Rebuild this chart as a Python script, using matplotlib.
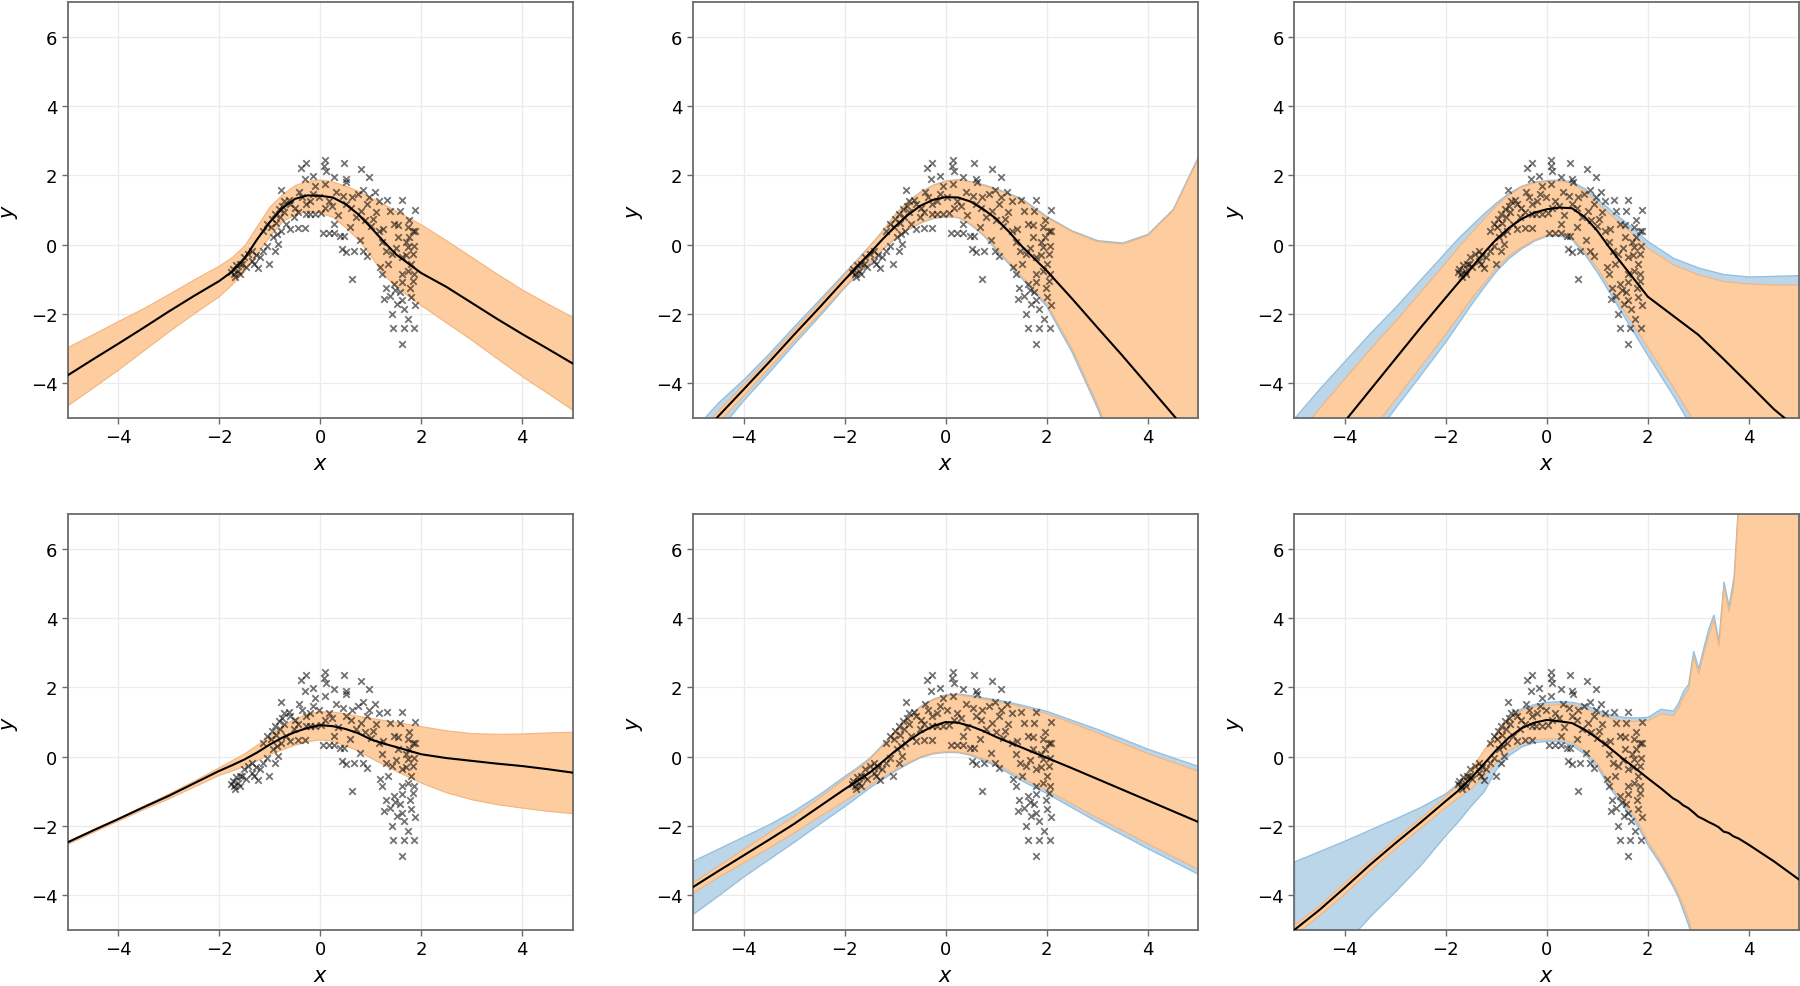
import matplotlib
matplotlib.use("Agg")
import matplotlib.pyplot as plt
import numpy as np

x_obs = [
    -0.39, -0.29, 0.09, 0.08, 0.11, 0.47, 0.80, 0.97, -0.31, -0.15, 0.28, 0.51, 0.52, -0.77, -0.42, 1.08,
    0.85, 1.33, 1.61, 1.88, 1.57, 1.54, 1.76, 1.73, 1.84, -1.73, -1.70, -1.62, -1.54, -1.51, -1.43, -1.35,
    -1.24, -1.20, -1.13, -1.05, -1.01, -0.84, -0.94, -0.86, -0.78, -0.96, -0.90, -0.82, -0.75, -0.71, -0.67,
    -0.59, -0.44, -0.30, -0.52, -0.44, -0.29, -0.21, -0.10, 0.02, -0.59, -0.36, -0.29, -0.14, -0.02, 0.17,
    0.32, 0.09, -0.10, 0.24, 0.05, 0.17, 0.28, 0.28, 0.40, 0.47, 0.43, 0.51, 0.66, 0.78, 0.85, 0.93, 0.62,
    0.59, 0.70, 0.81, 0.93, 0.51, 0.62, 0.74, 0.97, 1.16, 1.04, 1.16, 1.23, 1.31, 1.42, 1.19, 1.23, 1.35,
    1.46, 1.61, 1.49, 1.57, 1.27, 1.38, 1.61, 1.80, 1.88, 1.42, 1.74, 1.45, 1.65, 1.86, 1.61, 1.61, 1.73,
    1.84, 1.80, 1.84, 1.86, 1.61, 1.73, 1.76, 1.54, 1.69, 1.88, 1.38, 1.46, -1.05, -1.13, -1.35, -1.58,
    -1.66, -1.47, -1.31, -0.90, -1.76, -1.68, -1.59, -1.28, -0.98, -0.88, -0.80, -0.72, -0.62, -0.50,
    -0.20, 0.10, 0.35, 0.45, 0.60, 0.88, 1.00, 1.10, 1.25, 1.50, 1.70, 1.85, 1.78, 1.66, 1.52, 1.30,
]
y_obs = [
    2.22, 2.35, 2.44, 2.27, 2.13, 2.35, 2.18, 1.94, 1.89, 1.98, 1.94, 1.89, 1.81, 1.58, 1.52, 1.52,
    1.58, 1.29, 1.29, 1.01, 0.98, 0.57, 0.72, 0.50, 0.40, -0.70, -0.84, -0.75, -0.56, -0.36, -0.27, -0.46,
    -0.67, -0.36, -0.17, -0.03, -0.56, 0.02, 0.21, 0.31, 0.40, 0.74, 0.88, 1.03, 1.12, 1.27, 0.59,
    0.45, 0.47, 0.47, 0.79, 0.93, 0.88, 0.88, 0.88, 0.90, 1.17, 1.36, 1.17, 1.46, 1.36, 1.27,
    1.51, 1.74, 1.70, 1.12, 0.35, 0.35, 0.35, 0.59, 0.26, 0.26, -0.12, -0.22, -0.17, 0.12, -0.17, -0.32, -0.99,
    0.50, 0.79, 0.98, 1.17, 1.17, 1.36, 1.46, 1.36, 1.27, 0.74, 0.40, 0.07, -0.17, -0.27, -0.65, -0.84, -0.56,
    -1.13, -1.08, -1.32, -1.37, -1.56, -1.47, -1.61, -1.51, -1.75, -1.99, -2.14, -2.40, -2.40, -2.40, -2.86, -0.84, -0.75,
    -1.04, -0.56, -0.27, -0.03, -0.36, -0.08, 0.21, 0.21, 0.07, 0.40, 0.98, 0.59, 0.59, 0.40, -0.17, -0.56,
    -0.60, -0.65, -0.56, -0.17, -0.78, -0.92, -0.85, -0.30, 0.50, 0.62, 0.80, 0.95, 1.30, 1.05,
    1.25, 1.05, 0.85, 1.40, 1.05, 0.70, 0.55, 0.95, 0.45, -0.10, -0.30, -0.85, -1.25, -1.85, -1.70, -1.25,
]
# the middle column shows the same points on a slightly stretched x scale
mid_x_scale = 1.086
mid_x_shift = 0.05

# PREDICTIVE BANDS
grid = [-5, -4.5, -4, -3.5, -3, -2.5, -2, -1.75, -1.5, -1.25, -1, -0.75, -0.5, -0.25,
        0, 0.25, 0.5, 0.75, 1, 1.25, 1.5, 2, 2.5, 3, 3.5, 4, 4.5, 5]

p1_mean = [-3.77, -3.31, -2.86, -2.40, -1.93, -1.48, -1.05, -0.78, -0.40, 0.15, 0.65, 1.05, 1.32, 1.42,
           1.41, 1.36, 1.17, 0.88, 0.50, 0.10, -0.28, -0.82, -1.22, -1.68, -2.14, -2.58, -3.00, -3.43]
p1_up = [-2.95, -2.58, -2.20, -1.83, -1.42, -1.00, -0.60, -0.36, -0.02, 0.55, 1.10, 1.46, 1.72, 1.84,
         1.88, 1.82, 1.70, 1.55, 1.36, 1.17, 0.98, 0.58, 0.12, -0.36, -0.84, -1.30, -1.70, -2.09]
p1_lo = [-4.63, -4.12, -3.60, -3.05, -2.50, -1.98, -1.48, -1.14, -0.75, -0.25, 0.25, 0.68, 0.88, 0.98,
         0.92, 0.80, 0.50, 0.15, -0.32, -0.85, -1.22, -1.75, -2.25, -2.75, -3.28, -3.80, -4.28, -4.77]

p2_mean = [-5.80, -4.95, -4.18, -3.40, -2.60, -1.82, -1.02, -0.63, -0.25, 0.15, 0.52, 0.85, 1.12, 1.29,
           1.37, 1.36, 1.24, 1.02, 0.75, 0.38, -0.03, -0.75, -1.55, -2.38, -3.20, -4.05, -4.90, -5.75]
p2_up = [-5.60, -4.78, -4.02, -3.25, -2.45, -1.66, -0.85, -0.43, -0.02, 0.40, 0.88, 1.25, 1.52, 1.72,
         1.84, 1.88, 1.82, 1.72, 1.60, 1.46, 1.31, 0.79, 0.38, 0.10, 0.03, 0.28, 1.00, 2.50]
p2_lo = [-6.00, -5.12, -4.34, -3.55, -2.75, -1.98, -1.19, -0.83, -0.50, -0.12, 0.20, 0.46, 0.65, 0.78,
         0.83, 0.80, 0.60, 0.30, -0.10, -0.50, -0.90, -1.70, -3.00, -4.60, -6.50, -8.50, -10.5, -12.5]
p2_bup = [-5.35, -4.55, -3.88, -3.14, -2.35, -1.58, -0.80, -0.41, -0.01, 0.41, 0.89, 1.26, 1.53, 1.73,
          1.85, 1.89, 1.83, 1.74, 1.62, 1.48, 1.34, 0.82, 0.41, 0.13, 0.06, 0.31, 1.03, 2.55]
p2_blo = [-6.25, -5.36, -4.48, -3.68, -2.85, -2.05, -1.22, -0.85, -0.51, -0.13, 0.19, 0.45, 0.64, 0.77,
          0.82, 0.79, 0.58, 0.27, -0.14, -0.55, -0.96, -1.78, -3.10, -4.70, -6.60, -8.60, -10.6, -12.6]

p3_mean = [-6.90, -6.00, -5.10, -4.20, -3.30, -2.40, -1.53, -1.10, -0.68, -0.25, 0.15, 0.48, 0.74, 0.92,
           1.02, 1.07, 1.05, 0.80, 0.40, -0.10, -0.57, -1.50, -2.05, -2.60, -3.30, -4.02, -4.75, -5.35]
p3_up = [-5.60, -4.70, -3.85, -3.00, -2.20, -1.35, -0.50, -0.05, 0.35, 0.75, 1.15, 1.45, 1.68, 1.80,
         1.83, 1.85, 1.78, 1.55, 1.20, 0.88, 0.57, -0.10, -0.57, -0.86, -1.05, -1.12, -1.15, -1.15]
p3_lo = [-8.30, -7.30, -6.30, -5.40, -4.45, -3.50, -2.55, -2.05, -1.55, -1.10, -0.65, -0.30, -0.05, 0.15,
         0.29, 0.30, 0.20, -0.20, -0.67, -1.25, -1.82, -2.97, -4.10, -5.30, -6.50, -7.70, -8.90, -10.0]
p3_bup = [-5.00, -4.15, -3.35, -2.55, -1.80, -1.00, -0.20, 0.20, 0.55, 0.90, 1.22, 1.50, 1.70, 1.82,
          1.86, 1.88, 1.82, 1.62, 1.32, 1.02, 0.72, 0.10, -0.38, -0.66, -0.85, -0.92, -0.90, -0.88]
p3_blo = [-8.60, -7.60, -6.60, -5.70, -4.70, -3.75, -2.78, -2.25, -1.72, -1.22, -0.75, -0.38, -0.10, 0.12,
          0.26, 0.27, 0.15, -0.28, -0.80, -1.40, -2.00, -3.20, -4.35, -5.60, -6.80, -8.00, -9.20, -10.3]

p4_mean = [-2.47, -2.13, -1.80, -1.46, -1.13, -0.77, -0.41, -0.25, -0.08, 0.12, 0.35, 0.55, 0.71, 0.83,
           0.91, 0.88, 0.80, 0.68, 0.50, 0.38, 0.28, 0.07, -0.04, -0.12, -0.20, -0.27, -0.36, -0.46]
p4_up = [-2.43, -2.09, -1.76, -1.41, -1.06, -0.69, -0.30, -0.10, 0.10, 0.35, 0.62, 0.90, 1.10, 1.25,
         1.31, 1.30, 1.25, 1.18, 1.12, 1.06, 1.00, 0.88, 0.76, 0.68, 0.66, 0.67, 0.70, 0.72]
p4_lo = [-2.51, -2.17, -1.84, -1.51, -1.20, -0.86, -0.52, -0.40, -0.26, -0.10, 0.08, 0.22, 0.35, 0.45,
         0.50, 0.46, 0.32, 0.18, -0.03, -0.22, -0.41, -0.75, -1.03, -1.23, -1.37, -1.47, -1.56, -1.63]

p5_mean = [-3.76, -3.30, -2.85, -2.40, -1.94, -1.44, -0.94, -0.70, -0.46, -0.15, 0.16, 0.44, 0.69, 0.88,
           1.00, 0.98, 0.88, 0.74, 0.57, 0.42, 0.27, -0.03, -0.33, -0.64, -0.95, -1.26, -1.57, -1.88]
p5_up = [-3.62, -3.14, -2.66, -2.18, -1.70, -1.17, -0.62, -0.35, -0.05, 0.33, 0.72, 1.12, 1.45, 1.65,
         1.78, 1.80, 1.74, 1.67, 1.60, 1.53, 1.45, 1.25, 0.98, 0.70, 0.40, 0.10, -0.15, -0.41]
p5_lo = [-3.91, -3.46, -3.04, -2.62, -2.18, -1.71, -1.26, -1.03, -0.80, -0.58, -0.35, -0.15, 0.02, 0.12,
         0.16, 0.15, 0.08, -0.05, -0.20, -0.40, -0.60, -0.95, -1.35, -1.75, -2.12, -2.50, -2.87, -3.24]
p5_bup = [-3.00, -2.65, -2.30, -1.95, -1.55, -1.08, -0.55, -0.30, -0.02, 0.36, 0.75, 1.14, 1.47, 1.67,
          1.80, 1.82, 1.77, 1.71, 1.65, 1.58, 1.50, 1.32, 1.06, 0.80, 0.52, 0.23, -0.02, -0.27]
p5_blo = [-4.53, -4.00, -3.45, -2.95, -2.45, -1.93, -1.42, -1.15, -0.88, -0.64, -0.40, -0.19, -0.01, 0.10,
          0.14, 0.13, 0.05, -0.10, -0.26, -0.47, -0.68, -1.05, -1.46, -1.87, -2.25, -2.64, -3.01, -3.38]

grid6 = [-5, -4.5, -4, -3.5, -3, -2.5, -2, -1.75, -1.5, -1.25, -1, -0.75, -0.5, -0.25, 0, 0.25, 0.5,
         0.75, 1, 1.25, 1.5, 1.75, 2, 2.25, 2.5, 2.6, 2.7, 2.8, 2.9, 3.0, 3.1, 3.2, 3.3, 3.4, 3.5, 3.6,
         3.7, 3.8, 3.9, 4.0, 4.5, 5]
p6_mean = [-5.00, -4.42, -3.78, -3.12, -2.50, -1.90, -1.28, -0.98, -0.62, -0.22, 0.19, 0.55, 0.82, 0.98,
           1.06, 1.02, 0.97, 0.78, 0.53, 0.25, -0.05, -0.33, -0.62, -0.90, -1.20, -1.28, -1.40, -1.48,
           -1.60, -1.73, -1.80, -1.88, -1.95, -2.03, -2.16, -2.20, -2.30, -2.36, -2.45, -2.54, -3.02, -3.55]
p6_up = [-4.85, -4.28, -3.62, -2.98, -2.36, -1.76, -1.12, -0.80, -0.35, 0.20, 0.70, 1.10, 1.35, 1.46,
         1.49, 1.52, 1.50, 1.40, 1.25, 1.12, 1.05, 1.03, 1.06, 1.25, 1.20, 1.40, 1.75, 1.95, 2.90, 2.40,
         3.00, 3.50, 3.95, 3.20, 4.90, 4.20, 5.00, 7.50, 9.0, 9.0, 9.0, 9.0]
p6_lo = [-5.15, -4.56, -3.94, -3.26, -2.64, -2.04, -1.44, -1.16, -0.90, -0.55, -0.15, 0.20, 0.40, 0.50,
         0.53, 0.52, 0.42, 0.18, -0.20, -0.80, -1.30, -1.75, -2.45, -3.00, -3.65, -3.95, -4.30, -4.70,
         -5.20, -5.70, -6.20, -6.70, -7.20, -7.70, -8.20, -8.70, -9.20, -9.70, -10.2, -10.7, -13.0, -15.0]
p6_bup = [-3.02, -2.72, -2.42, -2.10, -1.78, -1.45, -1.05, -0.75, -0.40, 0.10, 0.65, 1.12, 1.40, 1.52,
          1.58, 1.60, 1.58, 1.50, 1.35, 1.22, 1.15, 1.13, 1.15, 1.38, 1.33, 1.55, 1.90, 2.10, 3.05, 2.55,
          3.15, 3.70, 4.10, 3.35, 5.05, 4.35, 5.20, 7.60, 9.2, 9.2, 9.2, 9.2]
p6_blo = [-6.90, -6.20, -5.40, -4.60, -3.88, -3.12, -2.25, -1.85, -1.40, -1.00, -0.35, 0.05, 0.30, 0.42,
          0.46, 0.45, 0.33, 0.08, -0.30, -0.90, -1.40, -1.88, -2.55, -3.10, -3.75, -4.05, -4.45, -4.85,
          -5.30, -5.80, -6.30, -6.80, -7.30, -7.80, -8.30, -8.80, -9.30, -9.80, -10.3, -10.8, -13.1, -15.1]

panels = [
    (grid, p1_mean, p1_up, p1_lo, None, None, False),
    (grid, p2_mean, p2_up, p2_lo, p2_bup, p2_blo, True),
    (grid, p3_mean, p3_up, p3_lo, p3_bup, p3_blo, False),
    (grid, p4_mean, p4_up, p4_lo, None, None, False),
    (grid, p5_mean, p5_up, p5_lo, p5_bup, p5_blo, True),
    (grid6, p6_mean, p6_up, p6_lo, p6_bup, p6_blo, False),
]

ORANGE = "#fdcda0"
ORANGE_EDGE = "#f3b47e"
BLUE = "#bcd6e9"
BLUE_EDGE = "#98c0dd"
SPINE = "#6b6b6b"

fig = plt.figure(figsize=(18, 9.87), dpi=100)

col_left = [0.0376, 0.385, 0.719]
row_bottom = [0.5755, 0.0567]
width, height = 0.2806, 0.4215

for i, (gx, mean, up, lo, bup, blo, middle) in enumerate(panels):
    ax = fig.add_axes([col_left[i % 3], row_bottom[i // 3], width, height])

    # OUTER (BLUE) AND INNER (ORANGE) BANDS
    if bup is not None:
        ax.fill_between(gx, blo, bup, facecolor=BLUE, edgecolor=BLUE_EDGE, linewidth=1.0, zorder=1)
    ax.fill_between(gx, lo, up, facecolor=ORANGE, edgecolor=ORANGE_EDGE, linewidth=0.8, zorder=2)

    # DATA POINTS
    xs = np.array(x_obs)
    if middle:
        xs = xs * mid_x_scale + mid_x_shift
    ax.scatter(xs, y_obs, marker="x", s=22, linewidths=1.3, color="black", alpha=0.55, zorder=3)

    # PREDICTIVE MEAN
    ax.plot(gx, mean, color="black", linewidth=1.5, zorder=4)

    ax.set_xlim(-5, 5)
    ax.set_ylim(-5, 7)
    ax.set_xticks([-4, -2, 0, 2, 4])
    ax.set_yticks([-4, -2, 0, 2, 4, 6])
    ax.grid(True, color="#ebebeb", linewidth=0.9, zorder=0)
    ax.set_axisbelow(True)
    for sp in ax.spines.values():
        sp.set_color(SPINE)
        sp.set_linewidth(1.3)
    ax.tick_params(labelsize=13, colors=SPINE, labelcolor="black", length=4, width=1)
    ax.set_xlabel("$x$", fontsize=15, labelpad=5)
    ax.set_ylabel("$y$", fontsize=15, labelpad=8)

plt.savefig("out.png", dpi=100)
